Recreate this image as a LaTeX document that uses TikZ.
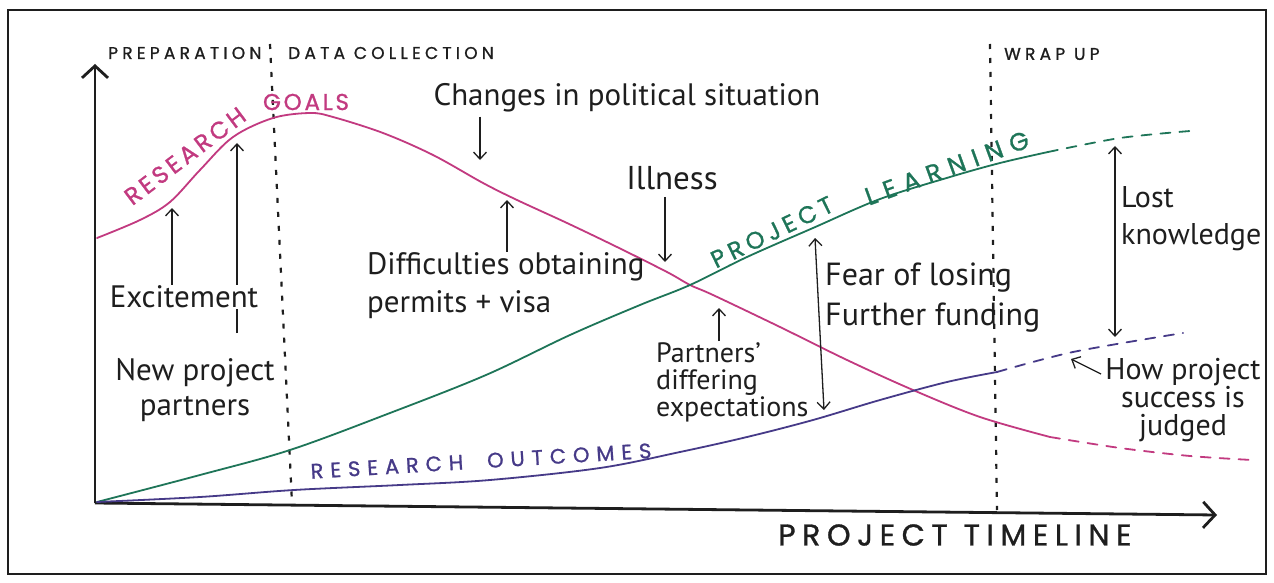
\documentclass[tikz,border=0pt]{standalone}
\usepackage{fontspec}
\setmainfont{PT Sans}
\newfontfamily\capsfont[FakeBold=1]{Poppins}
\usetikzlibrary{arrows.meta}
\definecolor{goalc}{HTML}{C23A80}
\definecolor{learnc}{HTML}{1E7558}
\definecolor{outc}{HTML}{463A88}
\definecolor{ink}{HTML}{1E1E1E}
\newcommand{\capsat}[2]{\capsfont\fontsize{#1}{#1}\selectfont\addfontfeature{LetterSpace=#2}}
\begin{document}
\begin{tikzpicture}[x=1pt,y=-1pt,
  curve/.style={line width=1.8pt, line cap=round, line join=round},
  ext/.style={curve, dash pattern=on 10pt off 9pt},
  phase/.style={ink, line width=2.2pt, dash pattern=on 5pt off 9pt},
  note/.style={ink, font=\fontsize{31}{38}\selectfont, inner sep=1pt},
  head/.style={ink, font=\capsat{17}{25}, inner sep=0pt},
  lab/.style={inner sep=0pt},
  ptr/.style={ink, line width=1.3pt, -{Straight Barb[length=7pt,width=13pt]}},
  dptr/.style={ink, line width=1.3pt, {Straight Barb[length=7pt,width=13pt]}-{Straight Barb[length=7pt,width=13pt]}},
  axis/.style={ink, line width=2.8pt, -{Straight Barb[length=12pt,width=26pt]}}
]
\useasboundingbox (0,0) rectangle (1274,583);
\fill[white] (0,0) rectangle (1274,583);
\draw[ink, line width=2.5pt] (8,10) rectangle (1266,574);

% axes
\coordinate (O) at (95,503);
\coordinate (ytop) at (95,64);
\coordinate (xend) at (1217,515);
\draw[axis] (O) -- (ytop);
\draw[axis] (O) -- (xend);
\node[ink, font=\capsat{30}{22}, inner sep=0pt, anchor=west] (timeline) at (778,535) {PROJECT\hspace{16pt}TIMELINE};

% phases
\coordinate (ph1t) at (270,44);
\coordinate (ph1b) at (292,503);
\coordinate (ph2t) at (990,44);
\coordinate (ph2b) at (997,510);
\draw[phase] (ph1t) -- (ph1b);
\draw[phase] (ph2t) -- (ph2b);
\node[head, anchor=west] (prep) at (108,53) {PREPARATION};
\node[head, anchor=west] (data) at (288,53) {DATA COLLECTION};
\node[head, anchor=west] (wrap) at (1004,54) {WRAP UP};

% curves
\draw[curve, goalc] plot[smooth, tension=0.55] coordinates {(97,238) (140,220) (170,202) (200,170) (233,137) (273,118) (310,113) (333,117) (383,133) (433,155) (483,183) (517,200) (567,223) (617,247) (667,272) (690,285) (713,295) (780,327) (847,360) (913,390) (980,417) (1050,437)};
\draw[ext, goalc] plot[smooth] coordinates {(1050,437) (1120,448) (1190,456) (1252,460)};
\draw[curve, learnc] plot[smooth, tension=0.55] coordinates {(97,502) (200,475) (290,450) (390,413) (486,375) (570,335) (640,305) (690,285) (747,257) (813,228) (880,199) (950,177) (1000,163) (1048,152)};
\draw[ext, learnc] plot[smooth] coordinates {(1048,152) (1120,138) (1190,131)};
\draw[curve, outc] plot[smooth, tension=0.55] coordinates {(97,502) (200,497) (294,490) (400,485) (490,480) (600,468) (680,452) (747,437) (813,420) (880,400) (947,382) (997,372)};
\draw[ext, outc] plot[smooth] coordinates {(997,372) (1073,352) (1183,333)};

% curve labels
\node[lab, goalc, rotate=37, font=\capsat{24}{15}] (rg1) at (185,156) {RESEARCH};
\node[lab, goalc, font=\capsat{23}{12}] (rg2) at (306,102) {GOALS};
\node[lab, learnc, rotate=26, font=\capsat{24}{20}] (pl1) at (772,232) {PROJECT};
\node[lab, learnc, rotate=20, font=\capsat{25}{32}] (pl2) at (947,168) {LEARNING};
\node[lab, outc, rotate=3.5, font=\capsat{21}{33}] (ro) at (481,461) {RESEARCH\hspace{24pt}OUTCOMES};

% annotations
\node[note] (chg) at (627,98) {Changes in political situation};
\node[note, font=\fontsize{33}{38}\selectfont] (ill) at (672,178) {Illness};
\node[note, align=left, anchor=west] (dif) at (366,286) {Difficulties obtaining\\permits + visa};
\node[note, align=center, font=\fontsize{31}{35}\selectfont] (np) at (195,390) {New project\\partners};
\node[note, align=left, anchor=west, font=\fontsize{32}{40}\selectfont] (fear) at (824,298) {Fear of losing\\Further funding};
\node[note, align=left, anchor=west, font=\fontsize{28}{27}\selectfont] (pde) at (655,382) {Partners'\\differing\\expectations};
\node[note, align=left, anchor=west, font=\fontsize{30}{37}\selectfont] (lost) at (1120,219) {Lost\\knowledge};
\node[note, align=center, font=\fontsize{30}{28}\selectfont] (how) at (1183,400) {How project\\success is\\judged};

% arrows
\coordinate (a1) at (480,160);
\coordinate (a2) at (665,262);
\coordinate (a3) at (507,200);
\coordinate (a4) at (172,208);
\coordinate (a5) at (237,143);
\coordinate (a6) at (719,308);
\coordinate (f1) at (815,238);
\coordinate (f2) at (824,410);
\coordinate (l1) at (1115,146);
\coordinate (l2) at (1115,337);
\coordinate (h0) at (1101,374);
\coordinate (h1) at (1071,359);
\draw[ptr] ([yshift=-3pt]chg.south -| a1) -- (a1);
\draw[ptr] ([yshift=-6pt]ill.south -| a2) -- (a2);
\draw[ptr] (dif.north -| a3) -- (a3);
\draw[ptr] ([yshift=24pt]np.north -| a5) -- (a5);
\node[note, fill=white] (exc) at (184,297) {Excitement};
\draw[ptr] (exc.north -| a4) -- (a4);
\draw[ptr] (pde.north -| a6) -- (a6);
\draw[dptr] (f1) -- (f2);
\draw[dptr] (l1) -- (l2);
\draw[ptr] (h0) -- (h1);
\end{tikzpicture}
\end{document}
